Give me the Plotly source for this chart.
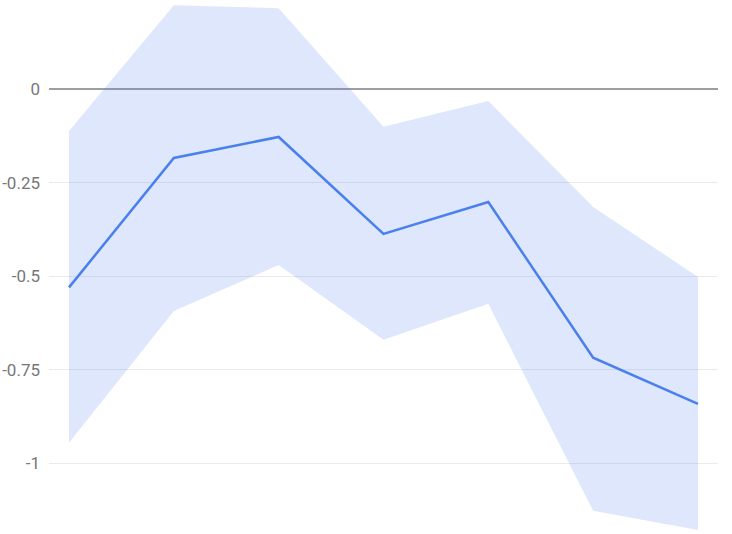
import plotly.graph_objects as go

x_vals = [0, 1, 2, 3, 4, 5, 6]
media = [-0.53, -0.184, -0.128, -0.387, -0.302, -0.718, -0.841]
limite_sup = [-0.112, 0.224, 0.216, -0.101, -0.032, -0.315, -0.502]
limite_inf = [-0.945, -0.593, -0.470, -0.670, -0.574, -1.127, -1.178]

tick_vals = [0, -0.25, -0.5, -0.75, -1]
tick_text = ['0', '-0.25', '-0.5', '-0.75', '-1']

fig = go.Figure()

# faixa (intervalo)
fig.add_trace(
    go.Scatter(
        x=x_vals,
        y=limite_sup,
        mode='lines',
        line=dict(width=0),
        showlegend=False,
        hoverinfo='skip'
    )
)
fig.add_trace(
    go.Scatter(
        x=x_vals,
        y=limite_inf,
        mode='lines',
        line=dict(width=0),
        fill='tonexty',
        fillcolor='rgba(70,120,235,0.18)',
        showlegend=False,
        hoverinfo='skip'
    )
)

# linha principal
fig.add_trace(
    go.Scatter(
        x=x_vals,
        y=media,
        mode='lines',
        line=dict(color='#4a80ee', width=2.5),
        showlegend=False
    )
)

fig.update_layout(
    width=732,
    height=534,
    plot_bgcolor='white',
    paper_bgcolor='white',
    margin=dict(l=49, r=14, t=0, b=0),
    font=dict(family='Roboto', size=17, color='#777777'),
    xaxis=dict(
        range=[-0.191, 6.191],
        showgrid=False,
        zeroline=False,
        showticklabels=False,
        showline=False
    ),
    yaxis=dict(
        range=[-1.189, 0.238],
        tickvals=tick_vals,
        ticktext=tick_text,
        showgrid=True,
        gridcolor='#ebebeb',
        gridwidth=1,
        zeroline=True,
        zerolinecolor='#9e9e9e',
        zerolinewidth=1.5,
        showline=False,
        ticks='',
        ticklabelstandoff=8
    )
)

# sem margem na página
fig.write_html(
    "out.html",
    config={'displayModeBar': False},
    post_script="document.body.style.margin='0';"
)
